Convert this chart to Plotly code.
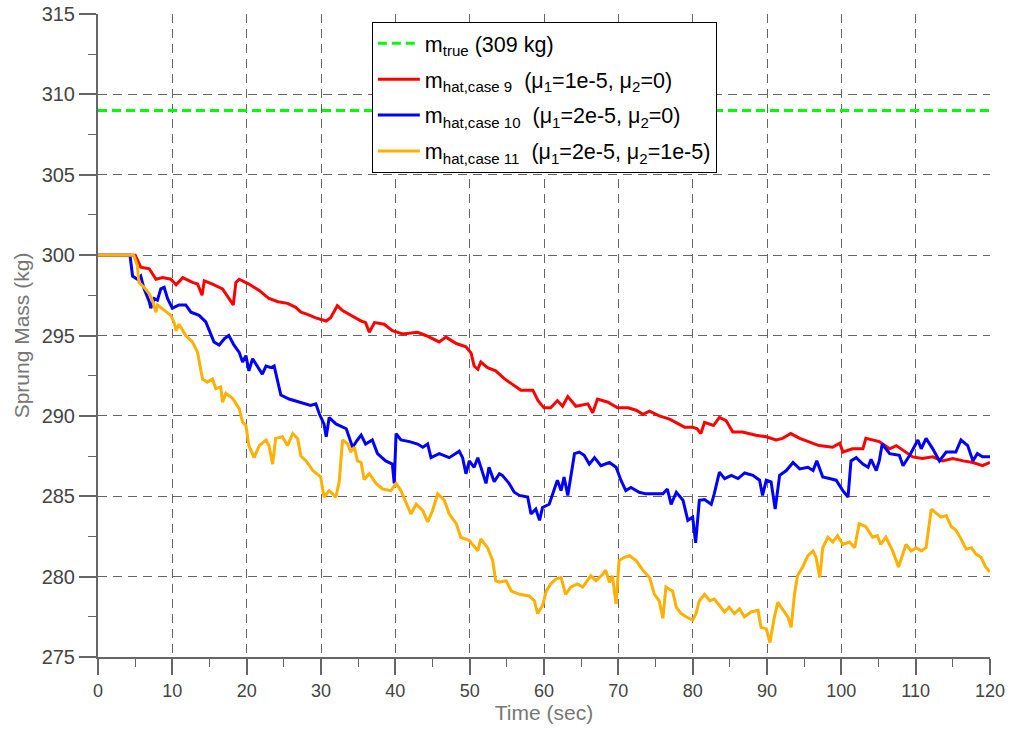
import plotly.graph_objects as go

# ---- data ----
time_span = [0, 120]
m_true = 309

red_points = [
    (0, 300), (5.0, 300), (5.75, 299.25), (6.9, 299.15), (7.8, 298.5), (8.7, 298.6), (9.8, 298.5),
    (10.5, 298.15), (11.4, 298.6), (12.7, 298.3), (13.4, 298.2), (14.0, 297.5), (14.3, 298.4),
    (15.4, 298.2), (16.75, 297.9), (17.65, 297.3), (18.2, 296.9), (18.55, 298.3), (19.0, 298.5),
    (20.3, 298.2), (21.7, 297.8), (23.0, 297.3), (24.2, 297.1), (25.5, 297.0), (26.6, 296.75),
    (27.3, 296.45), (28.0, 296.35), (29.3, 296.1), (30.7, 295.9), (31.3, 296.1), (32.2, 296.85),
    (32.9, 296.55), (34.0, 296.25), (35.4, 295.9), (36.0, 295.8), (36.5, 295.2), (37.2, 295.8),
    (38.5, 295.7), (39.6, 295.3), (41.0, 295.1), (43.0, 295.2), (44.1, 295.0), (45.9, 294.6),
    (46.8, 294.9), (48.2, 294.5), (49.5, 294.3), (50.2, 293.9), (50.6, 293.1), (51.1, 292.9),
    (51.5, 293.35), (52.4, 293.0), (53.5, 292.8), (54.7, 292.3), (56.0, 291.9), (56.9, 291.6),
    (58.5, 291.6), (59.2, 290.95), (60.0, 290.5), (60.9, 290.5), (61.8, 290.95), (62.5, 290.6),
    (63.2, 291.2), (64.3, 290.6), (65.9, 290.75), (66.55, 290.2), (67.2, 291.05), (68.6, 290.85),
    (69.9, 290.5), (71.3, 290.5), (72.4, 290.35), (73.3, 290.1), (74.2, 290.3), (75.5, 290.0),
    (76.9, 289.8), (78.0, 289.5), (78.9, 289.3), (80.0, 289.3), (80.6, 289.2), (81.1, 288.9),
    (81.6, 289.6), (82.8, 289.4), (83.6, 289.9), (84.5, 289.7), (85.4, 289.0), (86.7, 289.0),
    (88.5, 288.8), (89.9, 288.7), (91.2, 288.5), (92.1, 288.6), (93.2, 288.9), (94.4, 288.6),
    (95.7, 288.4), (97.0, 288.15), (98.8, 288.05), (99.8, 288.3), (100.2, 287.75), (101.5, 287.95),
    (102.9, 287.95), (103.3, 288.6), (105.1, 288.4), (106.5, 287.95), (107.4, 288.15),
    (108.7, 287.75), (109.6, 287.45), (110.9, 287.35), (112.3, 287.45), (113.6, 287.2),
    (115.0, 287.35), (116.4, 287.2), (117.7, 287.1), (119.0, 286.9), (120.0, 287.1),
]

blue_points = [
    (0, 300), (4.3, 300), (4.65, 298.7), (5.3, 298.5), (5.75, 298.7), (6.2, 297.9), (6.9, 297.1),
    (7.1, 296.7), (7.55, 297.3), (8.0, 297.2), (8.45, 297.9), (8.9, 298.0), (9.35, 297.3),
    (10.0, 296.7), (10.9, 296.9), (11.8, 296.9), (12.5, 296.45), (13.6, 296.25), (14.5, 295.85),
    (15.2, 295.0), (15.6, 294.6), (16.3, 294.4), (17.0, 294.8), (17.6, 295.0), (18.3, 294.4),
    (19.0, 293.95), (19.45, 293.35), (19.9, 293.75), (20.3, 292.8), (20.8, 293.55), (21.7, 292.9),
    (22.1, 292.6), (22.6, 293.1), (23.3, 293.0), (23.7, 293.1), (24.2, 292.1), (24.6, 291.3),
    (25.7, 291.05), (27.1, 290.85), (28.0, 290.75), (28.6, 290.65), (29.3, 290.75), (29.8, 290.1),
    (30.4, 289.5), (30.7, 288.7), (31.1, 289.9), (32.0, 289.5), (33.4, 289.2), (33.8, 288.6),
    (34.25, 288.05), (34.9, 288.5), (35.4, 288.8), (36.0, 288.25), (36.9, 288.5), (37.6, 287.65),
    (38.7, 287.2), (39.6, 287.0), (39.85, 285.8), (40.1, 288.9), (40.75, 288.5), (41.9, 288.4),
    (43.0, 288.25), (43.7, 288.05), (44.35, 288.25), (44.8, 287.4), (45.9, 287.65), (47.25, 287.4),
    (48.6, 287.8), (49.05, 287.4), (49.5, 286.4), (49.95, 287.2), (50.6, 286.8), (51.1, 287.4),
    (51.5, 286.8), (52.2, 285.8), (52.6, 286.8), (53.3, 285.9), (54.0, 286.4), (54.4, 286.3),
    (55.3, 285.8), (56.0, 285.25), (56.7, 285.05), (57.8, 284.95), (58.25, 283.9), (58.9, 284.2),
    (59.4, 283.5), (59.8, 284.3), (60.7, 284.5), (61.2, 285.15), (61.8, 286.0), (62.3, 285.35),
    (62.7, 286.2), (63.2, 285.05), (63.6, 286.2), (64.1, 287.65), (64.75, 287.75), (65.4, 287.55),
    (66.1, 287.0), (66.8, 287.4), (67.65, 286.9), (68.8, 287.1), (69.7, 286.8), (70.35, 286.0),
    (71.0, 285.35), (71.7, 285.55), (72.8, 285.25), (73.7, 285.15), (74.8, 285.15), (76.0, 285.15),
    (76.6, 285.45), (77.1, 284.5), (77.8, 285.25), (78.7, 284.75), (79.35, 283.5), (80.0, 283.7),
    (80.4, 282.1), (80.9, 284.75), (81.6, 284.8), (82.5, 284.5), (82.9, 285.15), (83.6, 286.5),
    (84.3, 286.1), (85.2, 286.3), (86.1, 286.1), (87.0, 286.45), (88.1, 286.3), (89.0, 286.0),
    (89.4, 285.05), (89.9, 286.0), (90.55, 285.9), (91.1, 284.2), (91.7, 286.3), (92.6, 286.6),
    (93.5, 287.1), (94.4, 286.7), (95.5, 286.8), (96.2, 286.6), (96.7, 287.2), (97.5, 286.2),
    (98.4, 286.1), (99.3, 286.0), (100.2, 285.35), (100.9, 284.95), (101.3, 287.2), (102.0, 287.4),
    (102.9, 287.0), (103.6, 286.8), (104.0, 287.3), (104.7, 286.6), (105.1, 287.2), (105.5, 288.25),
    (106.5, 287.65), (107.8, 287.55), (108.3, 286.9), (109.2, 287.55), (110.3, 288.5),
    (110.75, 287.95), (111.4, 288.6), (112.3, 287.95), (113.2, 287.2), (114.1, 287.75),
    (115.4, 287.75), (116.1, 288.5), (117.0, 288.15), (117.7, 287.2), (118.3, 287.65),
    (119.0, 287.45), (120.0, 287.45),
]

orange_points = [
    (0, 300), (4.8, 300), (5.3, 299.35), (5.5, 298.3), (6.2, 298.0), (6.9, 297.6), (7.3, 297.2),
    (7.8, 296.45), (8.0, 296.9), (8.45, 296.75), (8.9, 296.55), (9.8, 296.25), (10.25, 295.8),
    (10.5, 295.3), (10.9, 295.7), (11.8, 295.0), (12.7, 294.6), (13.4, 293.95), (14.05, 292.3),
    (14.7, 292.1), (15.4, 292.3), (15.85, 291.7), (16.5, 291.8), (16.75, 290.85), (17.2, 291.4),
    (18.1, 291.1), (19.0, 290.45), (19.45, 289.6), (19.9, 289.4), (20.3, 288.15), (21.0, 287.4),
    (21.7, 288.15), (22.6, 288.5), (23.0, 288.15), (23.5, 287.0), (23.9, 288.6), (24.8, 288.7),
    (25.5, 288.15), (26.2, 288.9), (26.85, 288.6), (27.3, 287.5), (28.0, 287.2), (28.9, 286.6),
    (29.95, 286.2), (30.4, 284.95), (31.1, 285.35), (32.0, 284.95), (32.45, 285.9), (32.9, 288.5),
    (33.6, 288.25), (34.0, 287.75), (34.5, 288.05), (34.9, 287.2), (35.4, 287.1), (35.8, 286.05),
    (36.5, 286.4), (37.4, 285.8), (38.3, 285.45), (39.4, 285.35), (40.1, 285.8), (40.75, 285.35),
    (41.4, 284.7), (42.1, 283.9), (42.8, 284.5), (43.7, 284.1), (44.35, 283.4), (45.0, 284.1),
    (45.7, 285.15), (46.6, 284.75), (47.25, 283.9), (48.2, 283.3), (48.8, 282.45), (49.95, 282.25),
    (51.1, 281.6), (51.5, 282.35), (52.4, 281.8), (53.1, 281.0), (53.5, 279.75), (54.0, 279.65),
    (54.9, 279.75), (55.6, 279.1), (56.7, 278.9), (58.0, 278.8), (58.7, 278.5), (59.15, 277.7),
    (59.8, 278.2), (60.3, 279.1), (60.9, 279.55), (61.6, 279.85), (62.3, 279.95), (62.9, 278.9),
    (63.6, 279.35), (64.5, 279.55), (65.2, 279.35), (65.9, 279.75), (66.3, 280.05), (67.0, 279.75),
    (67.9, 280.15), (68.3, 280.4), (68.8, 279.65), (69.2, 280.05), (69.7, 278.3), (70.1, 281.0),
    (70.8, 281.2), (71.5, 281.3), (72.4, 281.0), (73.3, 280.4), (74.2, 279.95), (74.85, 278.9),
    (75.5, 278.5), (76.0, 277.4), (76.4, 279.35), (77.3, 279.1), (77.8, 278.1), (78.45, 277.7),
    (79.1, 277.5), (80.0, 277.3), (80.45, 277.7), (80.9, 278.5), (81.6, 278.9), (82.3, 278.5),
    (82.9, 278.6), (83.6, 278.2), (84.3, 277.8), (84.9, 278.1), (85.6, 277.7), (86.3, 278.0),
    (86.95, 277.5), (87.85, 277.8), (88.8, 277.9), (89.2, 276.85), (89.9, 276.75), (90.4, 275.9),
    (91.0, 277.5), (91.45, 278.4), (92.1, 278.0), (92.8, 277.5), (93.25, 276.85), (93.7, 278.9),
    (94.1, 280.05), (94.8, 280.6), (95.5, 281.3), (96.2, 281.6), (96.6, 281.2), (97.1, 279.95),
    (97.5, 281.8), (98.2, 282.45), (98.85, 282.15), (99.5, 282.55), (100.2, 282.0), (101.1, 282.15),
    (101.8, 281.8), (102.4, 283.3), (103.3, 283.1), (104.2, 282.45), (104.85, 282.55),
    (105.3, 282.0), (106.0, 282.45), (106.9, 281.6), (107.7, 280.6), (108.3, 281.4), (108.7, 282.0),
    (109.4, 281.6), (110.05, 281.8), (110.75, 281.6), (111.4, 281.8), (112.1, 284.2),
    (112.8, 283.9), (113.4, 283.7), (114.1, 283.8), (114.8, 283.1), (115.4, 282.9),
    (116.1, 282.35), (116.8, 281.7), (117.5, 281.8), (118.1, 281.4), (118.8, 281.2),
    (119.4, 280.6), (120.0, 280.3),
]

x_ticks = [0, 10, 20, 30, 40, 50, 60, 70, 80, 90, 100, 110, 120]
y_ticks = [275, 280, 285, 290, 295, 300, 305, 310, 315]

names = [
    "m<sub>true</sub> (309 kg)",
    "m<sub>hat,case 9</sub>\u00a0 (\u03bc<sub>1</sub>=1e-5, \u03bc<sub>2</sub>=0)",
    "m<sub>hat,case 10</sub>\u00a0 (\u03bc<sub>1</sub>=2e-5, \u03bc<sub>2</sub>=0)",
    "m<sub>hat,case 11</sub>\u00a0 (\u03bc<sub>1</sub>=2e-5, \u03bc<sub>2</sub>=1e-5)",
]


def split(points):
    return [p[0] for p in points], [p[1] for p in points]


fig = go.Figure()
fig.add_trace(go.Scatter(x=time_span, y=[m_true, m_true], mode="lines", name=names[0],
                         legendgroup="g0",
                         line=dict(color="#00FF00", width=3, dash="9px,5px")))
for i, (pts, col, nm) in enumerate([(red_points, "#FF0000", names[1]),
                                    (blue_points, "#0000FF", names[2]),
                                    (orange_points, "#FFB000", names[3])]):
    tx, vy = split(pts)
    fig.add_trace(go.Scatter(x=tx, y=vy, mode="lines", name=nm, legendgroup=f"g{i + 1}",
                             line=dict(color=col, width=3)))

axis_common = dict(
    showline=True, linecolor="#666666", linewidth=2,
    ticks="outside", tickwidth=2, tickcolor="#666666",
    showgrid=True, gridcolor="#666666", gridwidth=1, griddash="9px,6px",
    zeroline=False, mirror=False, automargin=False,
)

fig.update_xaxes(range=[0, 120], tickvals=x_ticks, ticklen=16,
                 tickfont=dict(family="Liberation Sans, Arial, sans-serif", size=18, color="#444444"),
                 title=dict(text="Time (sec)", standoff=4,
                            font=dict(family="Liberation Sans, Arial, sans-serif", size=21, color="#777777")),
                 minor=dict(dtick=5, tick0=0, ticks="outside", ticklen=8, tickwidth=1,
                            tickcolor="#666666", showgrid=False),
                 **axis_common)
fig.update_yaxes(range=[275, 315], tickvals=y_ticks, ticklen=17,
                 tickfont=dict(family="Liberation Sans, Arial, sans-serif", size=20, color="#444444"),
                 title=dict(text="Sprung Mass (kg)", standoff=6,
                            font=dict(family="Liberation Sans, Arial, sans-serif", size=21, color="#777777")),
                 minor=dict(dtick=2.5, tick0=275, ticks="outside", ticklen=8, tickwidth=1,
                            tickcolor="#666666", showgrid=False),
                 **axis_common)

fig.update_layout(
    width=1010, height=730,
    margin=dict(l=98, r=20, t=14, b=73, autoexpand=False),
    plot_bgcolor="white", paper_bgcolor="white",
    showlegend=True,
    legend=dict(x=0.307, y=0.988, xanchor="left", yanchor="top",
                bgcolor="white", bordercolor="black", borderwidth=1,
                font=dict(family="Liberation Sans, Arial, sans-serif", size=21.5, color="black"),
                tracegroupgap=5, itemwidth=42),
)

fig.write_html("out.html", config={"displayModeBar": False})
